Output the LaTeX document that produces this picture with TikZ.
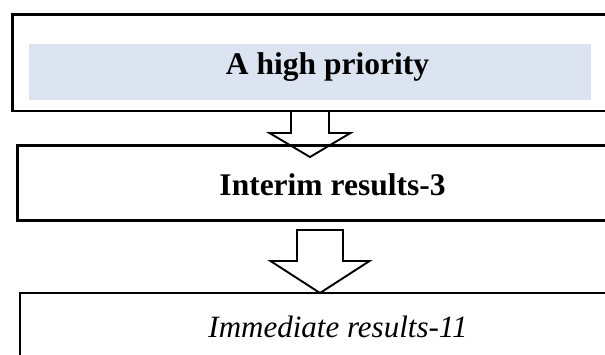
\documentclass[tikz,border=0pt]{standalone}
\usepackage{fontspec}
\setmainfont{Liberation Serif}
\usetikzlibrary{calc}
\definecolor{bandblue}{RGB}{219,228,240}
\begin{document}
\begin{tikzpicture}[x=1pt,y=-1pt,
  frame/.style={draw=black, line width=2.8pt},
  band/.style={fill=bandblue, draw=none, inner sep=0pt, anchor=north west},
  textlbl/.style={anchor=base, inner sep=0pt},
  blockarrow/.style={draw=black, line width=1.9pt, line join=miter}
]
\useasboundingbox (0,0) rectangle (605,354);
\clip (0,0) rectangle (605,354);

% shaded band inside the top box
\node[band, minimum width=562.4pt, minimum height=56.7pt] (band1) at (28.3,43.3) {};

% the three frames: their right sides run on past the page edge
\coordinate (box1nw) at (12.5,14.7);
\coordinate (box1se) at (760,111);
\coordinate (box2nw) at (17.3,145.7);
\coordinate (box2se) at (760,220.7);
\coordinate (box3nw) at (20,293);
\coordinate (box3se) at (760,420);
\draw[frame] (box1nw) rectangle (box1se);
\draw[frame] (box2nw) rectangle (box2se);
\draw[frame] (box3nw) rectangle (box3se);

% labels
\node[textlbl, font=\fontsize{31.5}{38}\selectfont\bfseries] (t1) at (327.5,74) {A high priority};
\node[textlbl, font=\fontsize{31.5}{38}\selectfont\bfseries] (t2) at (332.5,195.5) {Interim results-3};
\node[textlbl, font=\fontsize{31}{38}\selectfont\itshape] (t3) at (338,337.5) {Immediate results-11};

% hollow block arrows between the frames
\coordinate (a1top) at (310,111);
\coordinate (a1tip) at (310,157);
\draw[blockarrow] ($(a1top)+(-19,0)$) -- ($(a1tip)+(-19,-24)$) -- ++(-21.5,0) -- (a1tip)
  -- ++(40.5,-24) -- ++(-21.5,0) -- ($(a1top)+(19,0)$) -- cycle;

\coordinate (a2top) at (320,230);
\coordinate (a2tip) at (320,293);
\draw[blockarrow] ($(a2top)+(-23,0)$) -- ($(a2tip)+(-23,-32)$) -- ++(-26.5,0) -- (a2tip)
  -- ++(49.5,-32) -- ++(-26.5,0) -- ($(a2top)+(23,0)$) -- cycle;
\end{tikzpicture}
\end{document}
